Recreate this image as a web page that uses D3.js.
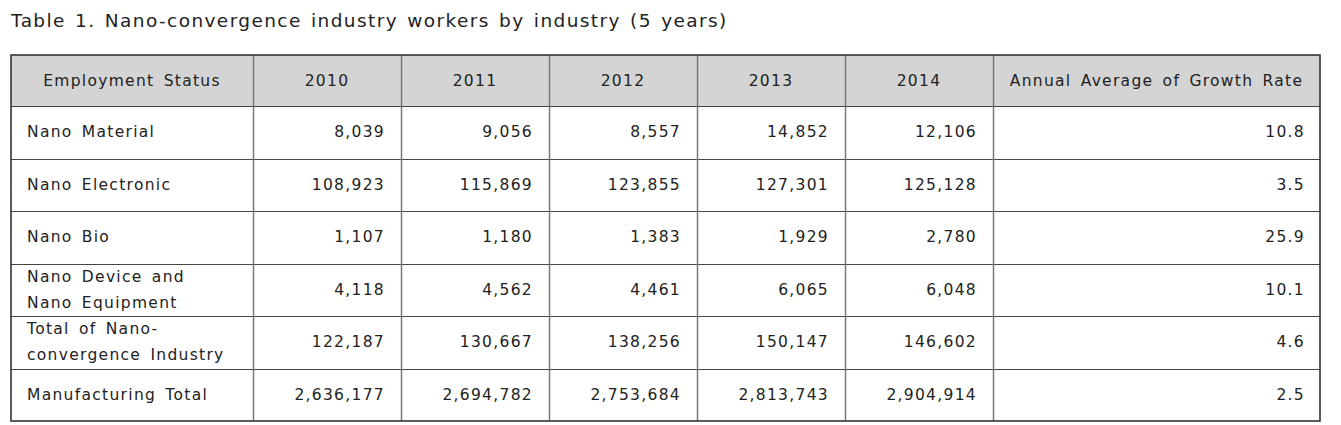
<!DOCTYPE html>
<html>
<head>
<meta charset="utf-8">
<script src="https://d3js.org/d3.v7.min.js"></script>
<style>
  body { margin: 0; background: #fff; }
  svg text { font-family: "DejaVu Sans", sans-serif; fill: #222; }
</style>
</head>
<body>
<div id="table"></div>
<script>
var title = "Table 1. Nano-convergence industry workers by industry (5 years)";
var headFirst = "Employment Status";
var headLast = "Annual Average of Growth Rate";
var years = ["2010", "2011", "2012", "2013", "2014"];
var rowLabels = [
  ["Nano Material"],
  ["Nano Electronic"],
  ["Nano Bio"],
  ["Nano Device and", "Nano Equipment"],
  ["Total of Nano-", "convergence Industry"],
  ["Manufacturing Total"]
];
var v2010 = [8039, 108923, 1107, 4118, 122187, 2636177];
var v2011 = [9056, 115869, 1180, 4562, 130667, 2694782];
var v2012 = [8557, 123855, 1383, 4461, 138256, 2753684];
var v2013 = [14852, 127301, 1929, 6065, 150147, 2813743];
var v2014 = [12106, 125128, 2780, 6048, 146602, 2904914];
var growth = ["10.8", "3.5", "25.9", "10.1", "4.6", "2.5"];

var values = [v2010, v2011, v2012, v2013, v2014];
var W = 1341, H = 425;
var tLeft = 11, tRight = 1320, tTop = 55, headBottom = 106, tBottom = 421;
var yearStart = 253, yearEnd = 993;

var svg = d3.select("#table").append("svg")
  .attr("width", W).attr("height", H);

svg.append("text")
  .attr("x", 11).attr("y", 27)
  .style("font-size", "18.5px")
  .style("letter-spacing", "1.4px")
  .style("word-spacing", "2px")
  .text(title);

var x = d3.scaleBand().domain(years).range([yearStart, yearEnd]);
var y = d3.scaleBand().domain(d3.range(rowLabels.length)).range([headBottom, tBottom]);
var fmt = d3.format(",");

// header fill
svg.append("rect")
  .attr("x", tLeft).attr("y", tTop)
  .attr("width", tRight - tLeft).attr("height", headBottom - tTop)
  .attr("fill", "#d4d4d4");

var cellStyle = function(sel) {
  sel.style("font-size", "15.5px")
    .style("letter-spacing", "1.3px")
    .style("word-spacing", "3px")
    .attr("dominant-baseline", "central");
};

// header texts
var headY = (tTop + headBottom) / 2;
svg.append("text").attr("x", (tLeft + yearStart) / 2).attr("y", headY)
  .attr("text-anchor", "middle").call(cellStyle).text(headFirst);
svg.selectAll(".hy").data(years).enter().append("text")
  .attr("x", function(d) { return x(d) + x.bandwidth() / 2; })
  .attr("y", headY).attr("text-anchor", "middle").call(cellStyle)
  .text(function(d) { return d; });
svg.append("text").attr("x", (yearEnd + tRight) / 2).attr("y", headY)
  .attr("text-anchor", "middle").call(cellStyle).text(headLast);

// row labels
var lineH = 26;
var rows = svg.selectAll(".row").data(rowLabels).enter().append("g")
  .attr("transform", function(d, i) { return "translate(0," + (y(i) + y.bandwidth() / 2) + ")"; });
rows.selectAll("text").data(function(d) { return d; }).enter().append("text")
  .attr("x", 27)
  .attr("y", function(d, j, nodes) { return (j - (nodes.length - 1) / 2) * lineH; })
  .call(cellStyle)
  .text(function(d) { return d; });

// year values
years.forEach(function(yr, k) {
  svg.selectAll(".c" + yr).data(values[k]).enter().append("text")
    .attr("x", x(yr) + x.bandwidth() - 16)
    .attr("y", function(d, i) { return y(i) + y.bandwidth() / 2; })
    .attr("text-anchor", "end").call(cellStyle)
    .text(function(d) { return fmt(d); });
});

// growth
svg.selectAll(".g").data(growth).enter().append("text")
  .attr("x", tRight - 15)
  .attr("y", function(d, i) { return y(i) + y.bandwidth() / 2; })
  .attr("text-anchor", "end").call(cellStyle)
  .text(function(d) { return d; });

// grid lines
var hLines = d3.range(1, rowLabels.length).map(function(i) { return y(i); });
hLines.unshift(headBottom);
svg.selectAll(".hl").data(hLines).enter().append("line")
  .attr("x1", tLeft).attr("x2", tRight)
  .attr("y1", function(d) { return Math.round(d) + 0.5; })
  .attr("y2", function(d) { return Math.round(d) + 0.5; })
  .attr("stroke", "#444").attr("stroke-width", 1.2);

var vLines = years.map(function(d) { return x(d); }).concat([yearEnd]);
svg.selectAll(".vl").data(vLines).enter().append("line")
  .attr("y1", tTop).attr("y2", tBottom)
  .attr("x1", function(d) { return Math.round(d) + 0.5; })
  .attr("x2", function(d) { return Math.round(d) + 0.5; })
  .attr("stroke", "#777").attr("stroke-width", 1.5);

svg.append("rect")
  .attr("x", tLeft).attr("y", tTop)
  .attr("width", tRight - tLeft).attr("height", tBottom - tTop)
  .attr("fill", "none").attr("stroke", "#333").attr("stroke-width", 1.6);
</script>
</body>
</html>
